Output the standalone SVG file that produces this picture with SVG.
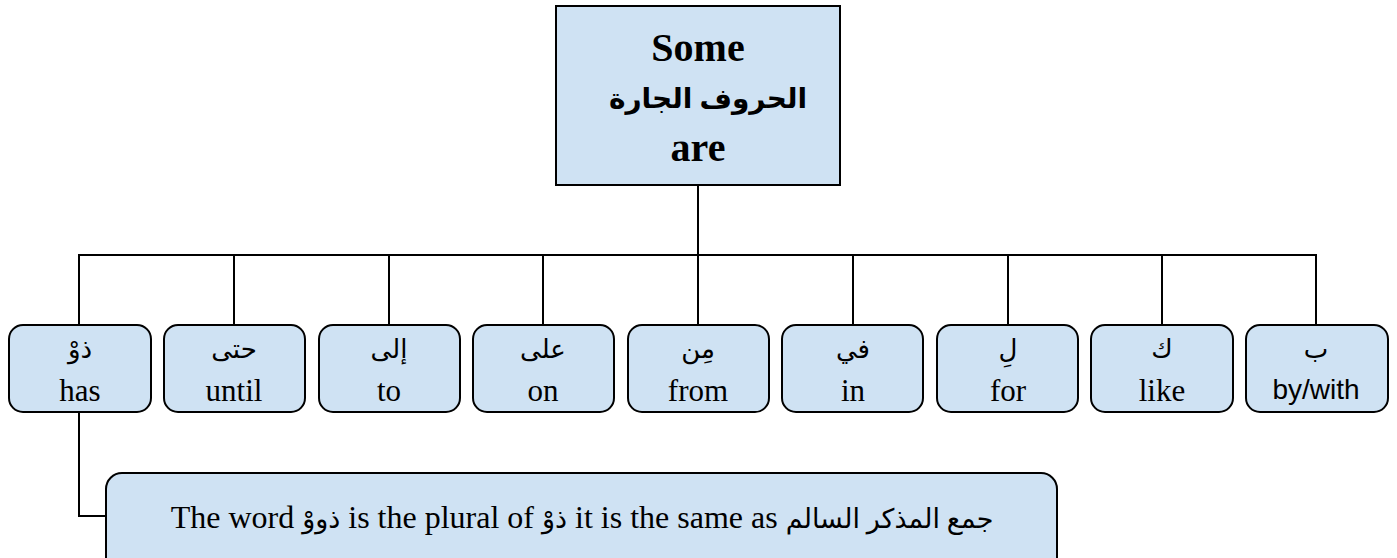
<svg xmlns="http://www.w3.org/2000/svg" width="1397" height="558" viewBox="0 0 1397 558">
  <style>
    .box { fill: #cfe2f3; stroke: #000; stroke-width: 2; }
    .link { fill: none; stroke: #000; stroke-width: 2; }
    .t { font-family: "Liberation Serif", "DejaVu Serif", "DejaVu Sans", serif; font-size: 31px; text-anchor: middle; fill: #000; }
    .ar { font-family: "Liberation Serif", "DejaVu Sans", serif; font-size: 26px; text-anchor: middle; fill: #000; }
    .hd { font-family: "Liberation Serif", "DejaVu Sans", serif; font-size: 40px; font-weight: bold; text-anchor: middle; fill: #000; }
    .hdar { font-size: 28px; }
    .sans { font-family: "Liberation Sans", Arial, sans-serif; font-size: 28px; }
    .note { font-size: 32px; }
    .notear { font-size: 27px; }
  </style>

  <g id="connectors">
    <path class="link" d="M698 185 V255"/>
    <path class="link" d="M79 325 V255 H1316 V325"/>
    <path class="link" d="M234 255 V325 M389 255 V325 M543 255 V325 M698 255 V325 M853 255 V325 M1008 255 V325 M1162 255 V325"/>
    <path class="link" d="M79 412 V516 H106"/>
  </g>

  <g id="root">
    <rect class="box" x="556" y="6" width="284" height="179"/>
    <text class="hd" x="698" y="61">Some</text>
    <text class="hd hdar" x="708" y="108" direction="rtl">الحروف الجارة</text>
    <text class="hd" x="698" y="161">are</text>
  </g>

  <g id="n-dhu">
    <rect class="box" x="9" y="325" width="142" height="87" rx="14"/>
    <text class="ar" x="80" y="358">ذوْ</text>
    <text class="t" x="80" y="401">has</text>
  </g>
  <g id="n-hatta">
    <rect class="box" x="164" y="325" width="141" height="87" rx="14"/>
    <text class="ar" x="234" y="358">حتى</text>
    <text class="t" x="234" y="401">until</text>
  </g>
  <g id="n-ila">
    <rect class="box" x="319" y="325" width="141" height="87" rx="14"/>
    <text class="ar" x="389" y="358">إلى</text>
    <text class="t" x="389" y="401">to</text>
  </g>
  <g id="n-ala">
    <rect class="box" x="473" y="325" width="141" height="87" rx="14"/>
    <text class="ar" x="543" y="358">على</text>
    <text class="t" x="543" y="401">on</text>
  </g>
  <g id="n-min">
    <rect class="box" x="628" y="325" width="141" height="87" rx="14"/>
    <text class="ar" x="698" y="358">مِن</text>
    <text class="t" x="698" y="401">from</text>
  </g>
  <g id="n-fi">
    <rect class="box" x="782" y="325" width="141" height="87" rx="14"/>
    <text class="ar" x="853" y="358">في</text>
    <text class="t" x="853" y="401">in</text>
  </g>
  <g id="n-li">
    <rect class="box" x="937" y="325" width="141" height="87" rx="14"/>
    <text class="ar" x="1008" y="358">لِ</text>
    <text class="t" x="1008" y="401">for</text>
  </g>
  <g id="n-ka">
    <rect class="box" x="1091" y="325" width="142" height="87" rx="14"/>
    <text class="ar" x="1162" y="358">ك</text>
    <text class="t" x="1162" y="401">like</text>
  </g>
  <g id="n-bi">
    <rect class="box" x="1246" y="325" width="142" height="87" rx="14"/>
    <text class="ar" x="1316" y="358">ب</text>
    <text class="t sans" x="1316" y="399">by/with</text>
  </g>

  <g id="note">
    <rect class="box" x="106" y="473" width="951" height="100" rx="16"/>
    <text class="t note" x="582" y="528" direction="ltr">The word <tspan class="notear">ذووْ</tspan> is the plural of <tspan class="notear">ذوْ</tspan> it is the same as <tspan class="notear">جمع المذكر السالم</tspan></text>
  </g>
</svg>
